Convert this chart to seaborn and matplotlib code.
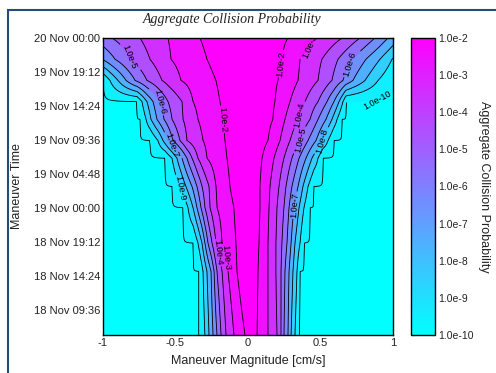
# %%
# ===== Importing Libraries =====

import numpy as np
import pandas as pd

import matplotlib
matplotlib.use("Agg")
import matplotlib.pyplot as plt
import matplotlib.dates as mdates
from matplotlib.colors import Normalize
from matplotlib.cm import ScalarMappable
from matplotlib.patches import Rectangle
import seaborn as sns

# %%
# ===== Data =====

# time of each row of the probability table (year is not shown on the chart)
row_times = ["2012-11-20 00:00", "2012-11-19 21:00", "2012-11-19 18:00",
             "2012-11-19 15:00", "2012-11-19 12:30", "2012-11-19 09:30",
             "2012-11-19 07:00", "2012-11-19 03:00", "2012-11-19 00:00",
             "2012-11-18 19:00", "2012-11-18 15:00", "2012-11-18 06:00"]

# log10 probability of the contour lines
contour_levels = [-10, -9, -8, -7, -6, -5, -4, -3, -2]

# maneuver magnitude [cm/s] where each level is crossed, negative side (-10 ... -2)
left_edges = [
    [-1.607, -1.503, -1.366, -1.228, -1.090, -0.938, -0.745, -0.552, -0.331],
    [-1.297, -1.214, -1.103, -1.007, -0.917, -0.814, -0.676, -0.531, -0.283],
    [-1.000, -0.952, -0.897, -0.841, -0.779, -0.697, -0.593, -0.462, -0.221],
    [-0.766, -0.731, -0.697, -0.655, -0.607, -0.552, -0.455, -0.379, -0.193],
    [-0.745, -0.703, -0.669, -0.628, -0.579, -0.524, -0.448, -0.345, -0.172],
    [-0.676, -0.621, -0.586, -0.552, -0.517, -0.469, -0.421, -0.310, -0.159],
    [-0.572, -0.524, -0.490, -0.455, -0.421, -0.386, -0.345, -0.283, -0.145],
    [-0.524, -0.469, -0.428, -0.386, -0.352, -0.317, -0.269, -0.221, -0.124],
    [-0.448, -0.414, -0.379, -0.352, -0.324, -0.297, -0.262, -0.214, -0.097],
    [-0.379, -0.345, -0.317, -0.297, -0.276, -0.248, -0.221, -0.179, -0.083],
    [-0.338, -0.310, -0.283, -0.255, -0.234, -0.214, -0.179, -0.138, -0.076],
    [-0.338, -0.297, -0.269, -0.241, -0.214, -0.186, -0.152, -0.097, -0.021],
]

# positive side, levels -2 ... -10
right_edges = [
    [0.276, 0.483, 0.648, 0.772, 0.876, 0.966, 1.048, 1.152, 1.255],
    [0.234, 0.359, 0.510, 0.621, 0.717, 0.814, 0.910, 0.993, 1.083],
    [0.207, 0.345, 0.483, 0.579, 0.655, 0.724, 0.807, 0.897, 1.014],
    [0.186, 0.290, 0.393, 0.483, 0.545, 0.593, 0.628, 0.655, 0.676],
    [0.172, 0.255, 0.345, 0.428, 0.483, 0.538, 0.579, 0.614, 0.648],
    [0.138, 0.221, 0.290, 0.359, 0.414, 0.469, 0.510, 0.552, 0.593],
    [0.097, 0.179, 0.248, 0.303, 0.352, 0.400, 0.441, 0.483, 0.517],
    [0.083, 0.152, 0.214, 0.262, 0.303, 0.345, 0.379, 0.414, 0.455],
    [0.083, 0.145, 0.200, 0.248, 0.283, 0.317, 0.352, 0.386, 0.428],
    [0.076, 0.138, 0.193, 0.234, 0.269, 0.297, 0.324, 0.359, 0.386],
    [0.069, 0.138, 0.193, 0.228, 0.255, 0.283, 0.310, 0.338, 0.359],
    [0.062, 0.138, 0.200, 0.228, 0.248, 0.276, 0.297, 0.324, 0.352],
]

x_ticks = [-1, -0.5, 0, 0.5, 1]
x_tick_labels = ["-1", "-0.5", "0", "0.5", "1"]

y_tick_times = ["2012-11-20 00:00", "2012-11-19 19:12", "2012-11-19 14:24",
                "2012-11-19 09:36", "2012-11-19 04:48", "2012-11-19 00:00",
                "2012-11-18 19:12", "2012-11-18 14:24", "2012-11-18 09:36"]

y_limits = ["2012-11-18 06:00", "2012-11-20 00:00"]

# %%
# ===== Building the probability surface =====

def build_surface(x_grid):
    rows = []
    for left, right in zip(left_edges, right_edges):
        peak = (left[-1] + right[0]) / 2
        xp = [-3] + left + [peak] + right + [3]
        fp = [-11] + contour_levels + [-1] + contour_levels[::-1] + [-11]
        rows.append(np.interp(x_grid, xp, fp))
    return np.array(rows)

x_grid = np.linspace(-2, 2, 801)
y_nums = mdates.date2num(pd.to_datetime(row_times))
log_prob = build_surface(x_grid)

# %%
# ===== Plotting =====

sns.set_theme(style="white")
plt.rcParams["font.family"] = ["Liberation Sans", "DejaVu Sans"]
text_color = "#222222"

cmap = sns.color_palette("cool", as_cmap=True)
norm = Normalize(vmin=-10, vmax=-2)

fig = plt.figure(figsize=(4.96, 3.73), dpi=100)
fig.patch.set_facecolor("white")
ax = fig.add_axes([103 / 496, 38 / 373, 290 / 496, 297 / 373])
cax = fig.add_axes([411 / 496, 38 / 373, 24 / 496, 297 / 373])

ax.contourf(x_grid, y_nums, log_prob, levels=[-11] + contour_levels + [-1],
            cmap=cmap, norm=norm)
lines = ax.contour(x_grid, y_nums, log_prob, levels=contour_levels,
                   colors="black", linewidths=0.6, linestyles="solid")
ax.clabel(lines, fmt=lambda v: f"1.0e{int(round(v))}", fontsize=6.5,
          inline=True, inline_spacing=1, colors="black")

ax.set_xlim(-1, 1)
ax.set_ylim(mdates.date2num(pd.to_datetime(y_limits)))
ax.set_xticks(x_ticks, x_tick_labels)
ax.set_yticks(mdates.date2num(pd.to_datetime(y_tick_times)))
ax.yaxis.set_major_formatter(mdates.DateFormatter("%d %b %H:%M"))
ax.tick_params(direction="in", length=3, width=0.8, top=True, right=True,
               labelsize=8, colors="black", labelcolor=text_color, pad=2)
for spine in ax.spines.values():
    spine.set_color("black")
    spine.set_linewidth(1.0)

ax.set_xlabel("Maneuver Magnitude [cm/s]", fontsize=9, color=text_color, labelpad=5)
ax.set_ylabel("Maneuver Time", fontsize=9, color=text_color, labelpad=8)

cb = fig.colorbar(ScalarMappable(norm=norm, cmap=cmap), cax=cax)
cb.set_ticks(contour_levels)
cb.set_ticklabels([f"1.0e{v}" for v in contour_levels])
cb.outline.set_edgecolor("black")
cb.outline.set_linewidth(1.0)
cax.tick_params(direction="in", length=3, width=0.8, left=True, right=True,
                labelsize=7.5, labelcolor=text_color, pad=2)
cax.set_ylabel("Aggregate Collision Probability", rotation=270, fontsize=9,
               color=text_color, labelpad=12)

fig.text(232 / 496, 1 - 20 / 373, "Aggregate Collision Probability",
         family="Liberation Serif", style="italic", fontsize=10,
         color=text_color, ha="center", va="center")

fig.add_artist(Rectangle((8 / 496, -0.1), 1.2, 1 - 10 / 373 + 0.1,
                         transform=fig.transFigure, fill=False,
                         edgecolor="#1f4e79", linewidth=1.5))

fig.savefig("out.png", dpi=100)
